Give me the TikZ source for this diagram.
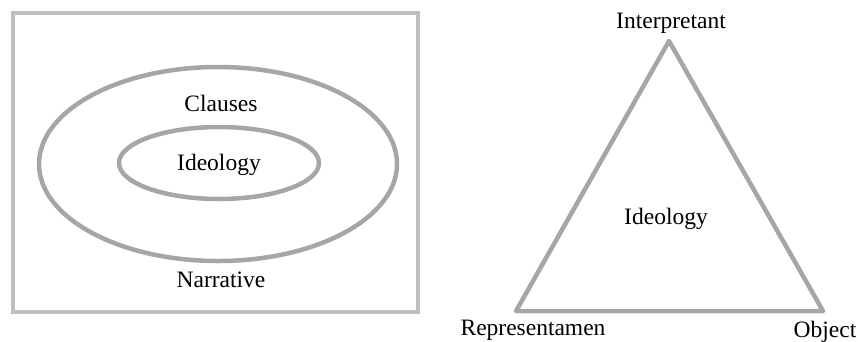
\documentclass[tikz,border=0pt]{standalone}
\usepackage{fontspec}
\setmainfont{Liberation Serif}
\begin{document}
\begin{tikzpicture}[x=1pt,y=-1pt,
  lbl/.style={inner sep=0pt,font=\fontsize{23.5}{28}\selectfont},
  boxline/.style={draw=black!25,line width=4.5pt},
  grayline/.style={draw=black!35,line width=4.5pt,line join=round,line cap=round}]
\useasboundingbox (0,0) rectangle (858,341);
\draw[boxline] (13,13) rectangle (418,312);
\draw[grayline] (218,164) ellipse [x radius=179,y radius=97];
\draw[grayline] (219,163) ellipse [x radius=100,y radius=36];
\node[lbl] (clauses) at (221,103) {Clauses};
\node[lbl] (ideo1) at (219,165) {Ideology};
\node[lbl] (narr) at (221,280) {Narrative};
\coordinate (top) at (669,41);
\coordinate (bl) at (516,311);
\coordinate (br) at (823,311);
\draw[grayline] (top) -- (bl) -- (br) -- cycle;
\node[lbl] (interp) at (671,23) {Interpretant};
\node[lbl] (ideo2) at (666,219) {Ideology};
\node[lbl] (repr) at (533,330) {Representamen};
\node[lbl] (obj) at (825,332) {Object};
\end{tikzpicture}
\end{document}
